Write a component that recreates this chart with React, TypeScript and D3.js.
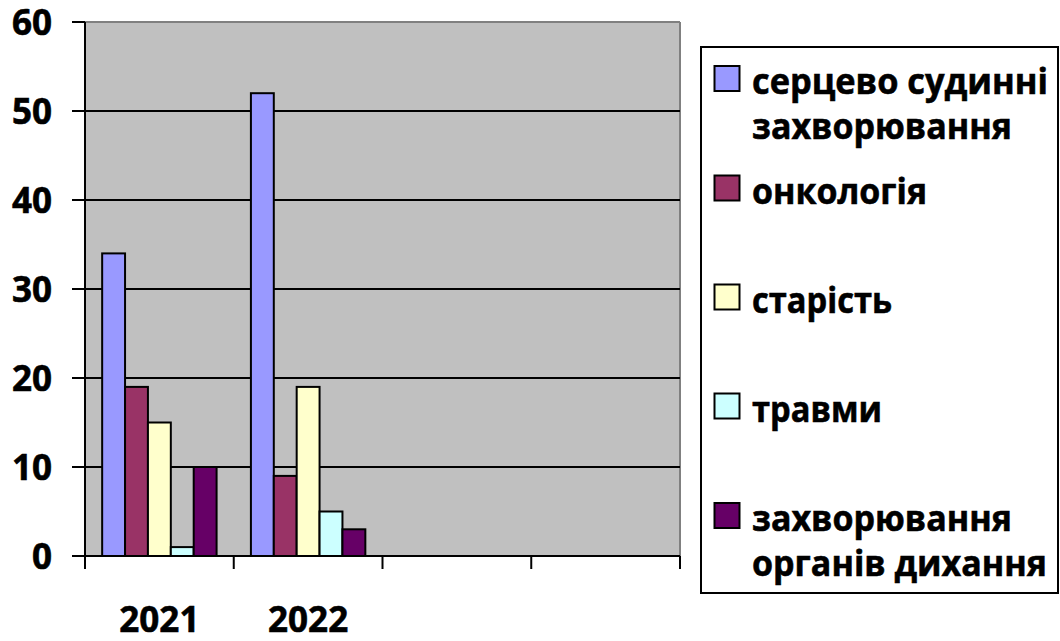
import React from "react";
import * as d3 from "d3";

const categories = ["2021", "2022", "", ""];
const seriesNames = [
  ["серцево судинні", "захворювання"],
  ["онкологія"],
  ["старість"],
  ["травми"],
  ["захворювання", "органів дихання"],
];
const seriesColors = ["#9999FF", "#993366", "#FFFFCC", "#CCFFFF", "#660066"];
const cardio = [34, 52];
const oncology = [19, 9];
const oldAge = [15, 19];
const injuries = [1, 5];
const respiratory = [10, 3];
const seriesValues = [cardio, oncology, oldAge, injuries, respiratory];
const yTicks = [0, 10, 20, 30, 40, 50, 60];

// measured widths of legend lines in the reference
const legendWidths: Record<string, number> = {
  "серцево судинні": 296,
  "захворювання": 260,
  "онкологія": 175,
  "старість": 140,
  "травми": 130,
  "органів дихання": 295,
};

const FONT = "'Open Sans', 'DejaVu Sans', sans-serif";

export default function App() {
  const left = 85, right = 680, top = 22, bottom = 556;
  const x = d3.scaleBand<number>().domain(categories.map((_, i) => i)).range([left, right]).paddingInner(0).paddingOuter(0);
  const inner = d3.scaleBand<number>().domain(seriesValues.map((_, i) => i)).range([0, x.bandwidth()]).paddingInner(0).paddingOuter(0.75);
  const y = d3.scaleLinear().domain([0, 60]).range([bottom, top]);

  const legendCenters = [78.5, 188, 297, 406, 515.5];

  return (
    <svg width={1060} height={641} style={{ position: "absolute", left: 0, top: 0, background: "#fff" }} fontFamily={FONT}>
      <rect x={left} y={top} width={right - left} height={bottom - top} fill="#C0C0C0" />
      <line x1={left} x2={right} y1={top} y2={top} stroke="#808080" strokeWidth={2} />
      <line x1={right} x2={right} y1={top} y2={bottom} stroke="#808080" strokeWidth={2} />
      {yTicks.filter((t) => t > 0 && t < 60).map((t) => (
        <line key={t} x1={left} x2={right} y1={y(t)} y2={y(t)} stroke="#000" strokeWidth={2} />
      ))}
      {yTicks.map((t) => (
        <g key={"yt" + t}>
          <line x1={72} x2={left} y1={y(t)} y2={y(t)} stroke="#000" strokeWidth={2} />
          <text x={52} y={y(t) + 12.5} textAnchor="end" fontSize={35} fontWeight="bold" fill="#000" stroke="#000" strokeWidth={0.6}>{t}</text>
        </g>
      ))}
      {seriesValues.map((vals, s) =>
        vals.map((v, c) => (
          <rect
            key={s + "-" + c}
            x={(x(c) as number) + (inner(s) as number)}
            y={y(v)}
            width={inner.bandwidth()}
            height={y(0) - y(v)}
            fill={seriesColors[s]}
            stroke="#000"
            strokeWidth={2}
          />
        ))
      )}
      <line x1={left} x2={left} y1={top} y2={bottom} stroke="#000" strokeWidth={2} />
      <line x1={left} x2={right} y1={bottom} y2={bottom} stroke="#000" strokeWidth={2} />
      {categories.map((_, i) => (
        <line key={"xt" + i} x1={x(i) as number} x2={x(i) as number} y1={bottom} y2={bottom + 13} stroke="#000" strokeWidth={2} />
      ))}
      <line x1={right} x2={right} y1={bottom} y2={bottom + 13} stroke="#000" strokeWidth={2} />
      {categories.map((c, i) => (
        <text key={"xl" + i} x={(x(i) as number) + x.bandwidth() / 2} y={632} textAnchor="middle" fontSize={35} fontWeight="bold" fill="#000" stroke="#000" strokeWidth={0.6}>{c}</text>
      ))}
      <rect x={701} y={47} width={357} height={546} fill="#fff" stroke="#000" strokeWidth={2} />
      {seriesNames.map((lines, s) => {
        const cy = legendCenters[s];
        return (
          <g key={"lg" + s}>
            <rect x={714.5} y={cy - 12.5} width={25} height={25} fill={seriesColors[s]} stroke="#000" strokeWidth={2} />
            {lines.map((ln, li) => (
              <text
                key={li}
                x={752}
                y={cy + 15.5 + li * 45}
                fontSize={36}
                fontWeight="bold"
                fill="#000"
                stroke="#000"
                strokeWidth={0.6}
                textLength={legendWidths[ln]}
                lengthAdjust="spacingAndGlyphs"
              >{ln}</text>
            ))}
          </g>
        );
      })}
    </svg>
  );
}
